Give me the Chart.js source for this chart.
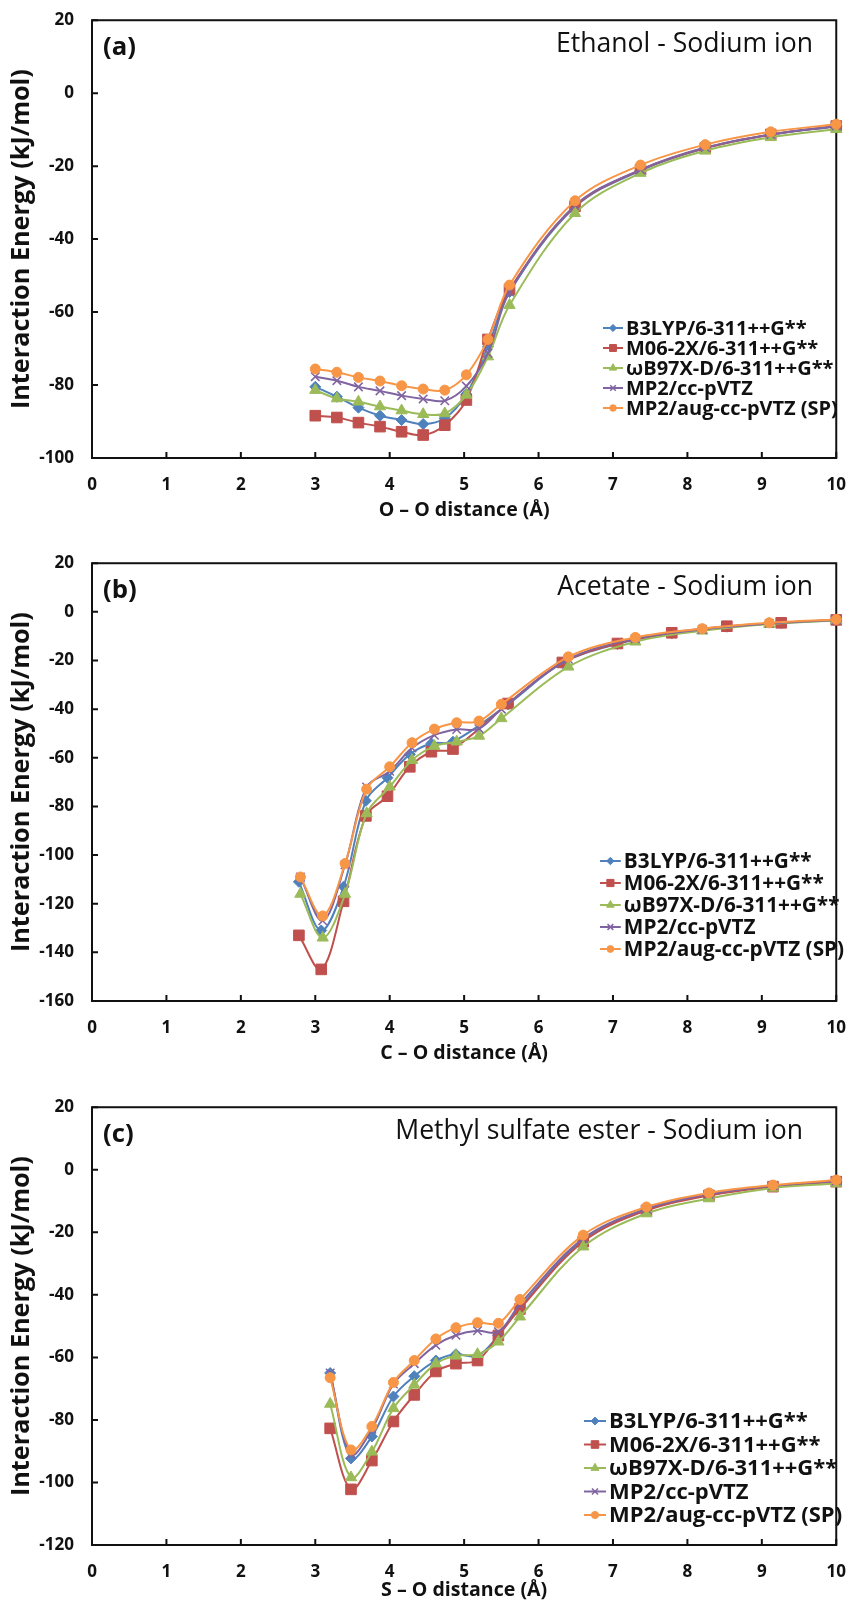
<!DOCTYPE html>
<html>
<head>
<meta charset="utf-8">
<title>Interaction energy - sodium ion</title>
<script src="https://cdn.jsdelivr.net/npm/chart.js@4.4.0/dist/chart.umd.min.js"></script>
<style>
body{margin:0;background:#fff;width:855px;height:1603px;overflow:hidden;position:relative}
canvas{position:absolute;left:0;display:block}
</style>
</head>
<body>
<canvas id="cA" width="855" height="543" style="top:0"></canvas>
<canvas id="cB" width="855" height="544" style="top:543px"></canvas>
<canvas id="cC" width="855" height="516" style="top:1087px"></canvas>
<script>
/* series names (legend) */
const methods = ['B3LYP/6-311++G**','M06-2X/6-311++G**','ωB97X-D/6-311++G**','MP2/cc-pVTZ','MP2/aug-cc-pVTZ (SP)'];
const xTicks = [0,1,2,3,4,5,6,7,8,9,10];

/* (a) Ethanol - Sodium ion, O–O distance */
const distA    = [3.00,3.29,3.58,3.87,4.16,4.45,4.74,5.03,5.32,5.61,6.49,7.37,8.24,9.12,10.00];
const a_b3lyp  = [-80.5,-83.2,-86.2,-88.4,-89.6,-90.7,-89.1,-82.5,-69.5,-54.5,-31.2,-21.2,-15.1,-11.4,-9.1];
const a_m062x  = [-88.4,-88.9,-90.3,-91.4,-92.8,-93.7,-91.0,-84.1,-67.5,-53.8,-31.0,-21.0,-15.0,-11.3,-9.0];
const a_wb97xd = [-81.4,-83.7,-84.6,-85.9,-87.0,-88.0,-87.8,-82.7,-72.2,-58.1,-32.9,-21.9,-15.8,-12.1,-9.9];
const a_mp2    = [-77.7,-78.8,-80.5,-81.6,-82.9,-83.8,-84.3,-80.3,-71.3,-54.5,-30.8,-21.0,-14.9,-11.3,-9.0];
const a_mp2aug = [-75.6,-76.5,-77.9,-78.9,-80.2,-81.1,-81.4,-77.2,-67.5,-52.6,-29.5,-19.7,-14.1,-10.6,-8.5];

/* (b) Acetate - Sodium ion, C–O distance (two distance grids) */
const distB_dft = [2.78,3.08,3.38,3.68,3.97,4.27,4.56,4.85,5.59,6.32,7.06,7.79,8.53,9.26,10.00];
const distB_mp2 = [2.80,3.10,3.40,3.69,4.00,4.30,4.60,4.90,5.20,5.50,6.40,7.30,8.20,9.10,10.00];
const b_b3lyp  = [-111,-131,-113,-77.7,-68.2,-58.6,-54.1,-53.4,-38.0,-21.0,-13.2,-8.8,-6.1,-4.6,-3.4];
const b_m062x  = [-133,-147,-119,-83.9,-75.8,-63.7,-57.5,-56.4,-37.7,-20.8,-13.0,-8.6,-5.9,-4.5,-3.3];
const b_wb97xd = [-116,-134,-116,-82.9,-71.9,-61.0,-55.2,-53.4,-51.0,-43.8,-22.6,-12.3,-7.8,-5.0,-3.5];
const b_mp2    = [-109,-127,-104,-72.0,-65.5,-56.0,-50.7,-48.4,-48.0,-40.0,-19.5,-11.0,-7.2,-4.8,-3.3];
const b_mp2aug = [-109,-125,-103.5,-72.9,-63.7,-53.8,-48.2,-45.6,-44.9,-38.0,-18.5,-10.5,-6.9,-4.5,-3.1];

/* (c) Methyl sulfate ester - Sodium ion, S–O distance */
const distC    = [3.20,3.48,3.76,4.05,4.33,4.62,4.89,5.18,5.46,5.75,6.60,7.45,8.29,9.15,10.00];
const c_b3lyp  = [-65.0,-92.3,-85.3,-72.5,-66.0,-61.0,-59.0,-59.5,-53.0,-44.0,-22.5,-12.8,-8.0,-5.3,-3.7];
const c_m062x  = [-82.7,-102.2,-93.0,-80.5,-72.0,-64.5,-62.0,-61.0,-53.0,-44.5,-23.0,-13.0,-8.2,-5.4,-3.8];
const c_wb97xd = [-74.9,-98.4,-90.2,-76.3,-68.8,-62.0,-59.5,-59.0,-55.0,-47.0,-24.6,-14.0,-9.2,-5.8,-4.4];
const c_mp2    = [-65.0,-91.0,-83.0,-68.5,-62.0,-56.1,-52.9,-51.5,-51.8,-43.0,-22.0,-12.5,-7.8,-5.1,-3.6];
const c_mp2aug = [-66.5,-89.6,-82.1,-68.0,-61.0,-54.1,-50.5,-48.9,-49.1,-41.5,-20.9,-11.9,-7.4,-4.9,-3.3];

/* styles */
const FONT = "'Open Sans','Noto Sans',sans-serif";
const colors = ['#4f81bd','#c0504d','#9bbb59','#8064a2','#f79646'];
const marks  = [
  {pointStyle:'rectRot', radius:5.5},
  {pointStyle:'rect',    radius:7.5},
  {pointStyle:'triangle',radius:6.5},
  {pointStyle:'crossRot',radius:6},
  {pointStyle:'circle',  radius:5}
];

/* font sizes fitted to the widths measured on the picture */
const mctx = document.createElement('canvas').getContext('2d');
function fit(text, w, weight){
  mctx.font = `${weight} 100px ${FONT}`;
  return 100 * w / mctx.measureText(text).width;
}
const tickSize   = fit('20', 19.5, 'bold');
const legendSize = fit('MP2/aug-cc-pVTZ (SP)', 212, 'bold');
const titleSize  = fit('Acetate - Sodium ion', 256, 'normal');
const letterSize = fit('(a)', 33, 'bold');
const xTitleSize = fit('O – O distance (Å)', 171, 'bold');
const yTitleSize = fit('Interaction Energy (kJ/mol)', 340, 'bold');

const panels = [
  { id:'cA', letter:'(a)', title:'Ethanol - Sodium ion', titleRight:813, xTitle:'O – O distance (Å)', yMin:-100, xTitleOff:52,
    series:[[distA,a_b3lyp],[distA,a_m062x],[distA,a_wb97xd],[distA,a_mp2],[distA,a_mp2aug]],
    leg:{x:603, gap:20, bottom:50, scale:1} },
  { id:'cB', letter:'(b)', title:'Acetate - Sodium ion', titleRight:813, xTitle:'C – O distance (Å)', yMin:-160, xTitleOff:52,
    series:[[distB_dft,b_b3lyp],[distB_dft,b_m062x],[distB_mp2,b_wb97xd],[distB_mp2,b_mp2],[distB_mp2,b_mp2aug]],
    leg:{x:600, gap:22, bottom:52, scale:1.04} },
  { id:'cC', letter:'(c)', title:'Methyl sulfate ester - Sodium ion', titleRight:803, xTitle:'S – O distance (Å)', yMin:-120, xTitleOff:45,
    series:[[distC,c_b3lyp],[distC,c_m062x],[distC,c_wb97xd],[distC,c_mp2],[distC,c_mp2aug]],
    leg:{x:584, gap:23.5, bottom:30, scale:1.1} }
];

function drawMark(ctx, i, x, y, scale){
  const m = marks[i];
  ctx.save();
  ctx.fillStyle = colors[i]; ctx.strokeStyle = colors[i];
  ctx.lineWidth = m.pointStyle==='crossRot' ? 1.5 : 1;
  Chart.helpers.drawPoint(ctx, {pointStyle:m.pointStyle, radius:m.radius*scale, rotation:0, borderWidth:ctx.lineWidth}, x, y);
  ctx.restore();
}

function makeChart(p){
  const canvas = document.getElementById(p.id);
  const H = canvas.height;

  const deco = {
    id:'deco',
    beforeDatasetsDraw(chart){
      const {ctx, chartArea:a, scales:{x, y}} = chart;
      ctx.save();
      ctx.strokeStyle = '#111'; ctx.lineWidth = 2;
      ctx.beginPath();
      x.ticks.forEach(t=>{ const px = x.getPixelForValue(t.value); ctx.moveTo(px, a.bottom); ctx.lineTo(px, a.bottom-6); });
      y.ticks.forEach(t=>{ const py = y.getPixelForValue(t.value); ctx.moveTo(a.left, py); ctx.lineTo(a.left+6, py); });
      ctx.stroke();
      ctx.strokeRect(a.left, a.top, a.right-a.left, a.bottom-a.top);
      ctx.restore();
    },
    afterDraw(chart){
      const {ctx, chartArea:a} = chart;
      ctx.save();
      ctx.fillStyle = '#111';
      ctx.textBaseline = 'middle';
      /* panel letter and title */
      ctx.font = `bold ${letterSize}px ${FONT}`;
      ctx.textAlign = 'left';
      ctx.fillText(p.letter, a.left+11, a.top+27);
      ctx.font = `normal ${titleSize}px ${FONT}`;
      ctx.textAlign = 'right';
      ctx.fillText(p.title, p.titleRight, a.top+24);
      /* axis titles */
      ctx.textAlign = 'center';
      ctx.font = `bold ${xTitleSize}px ${FONT}`;
      ctx.fillText(p.xTitle, (a.left+a.right)/2, a.bottom+p.xTitleOff);
      ctx.save();
      ctx.translate(22, (a.top+a.bottom)/2);
      ctx.rotate(-Math.PI/2);
      ctx.font = `bold ${yTitleSize}px ${FONT}`;
      ctx.fillText('Interaction Energy (kJ/mol)', 0, 0);
      ctx.restore();
      /* legend */
      const L = p.leg, sw = 20*L.scale;
      ctx.font = `bold ${legendSize*L.scale}px ${FONT}`;
      ctx.textAlign = 'left';
      methods.forEach((name,i)=>{
        const ly = a.bottom - L.bottom - (4-i)*L.gap;
        ctx.strokeStyle = colors[i]; ctx.lineWidth = 2;
        ctx.beginPath(); ctx.moveTo(L.x, ly); ctx.lineTo(L.x+sw, ly); ctx.stroke();
        drawMark(ctx, i, L.x+sw/2, ly, 0.65*L.scale);
        ctx.fillStyle = '#111';
        ctx.fillText(name, L.x+sw+3, ly+1);
      });
      ctx.restore();
    }
  };

  const tickFont = {family:FONT, weight:'bold', size:tickSize};
  new Chart(canvas, {
    type:'line',
    data:{
      datasets: p.series.map(([xs, ys], i)=>({
        label: methods[i],
        data: xs.map((d,k)=>({x:d, y:ys[k]})),
        borderColor: colors[i],
        backgroundColor: colors[i],
        pointBackgroundColor: colors[i],
        pointBorderColor: colors[i],
        pointStyle: marks[i].pointStyle,
        pointRadius: marks[i].radius,
        pointBorderWidth: i===3 ? 1.5 : 1,
        borderWidth: 2,
        tension: 0.35,
        clip: false,
        order: 4-i
      }))
    },
    options:{
      responsive:false, animation:false, devicePixelRatio:1,
      layout:{padding:{top:20, right:13, left:0, bottom:0}},
      plugins:{legend:{display:false}, tooltip:{enabled:false}},
      scales:{
        x:{ type:'linear', min:0, max:10,
            afterBuildTicks: s=>{ s.ticks = xTicks.map(v=>({value:v})); },
            ticks:{ color:'#111', font:tickFont, padding:9, autoSkip:false },
            grid:{display:false}, border:{display:false},
            afterFit: s=>{ s.height = H - 458; } },
        y:{ type:'linear', min:p.yMin, max:20,
            ticks:{ stepSize:20, color:'#111', font:tickFont, padding:10 },
            grid:{display:false}, border:{display:false},
            afterFit: s=>{ s.width = 92; } }
      }
    },
    plugins:[deco]
  });
}

panels.forEach(makeChart);
</script>
</body>
</html>
